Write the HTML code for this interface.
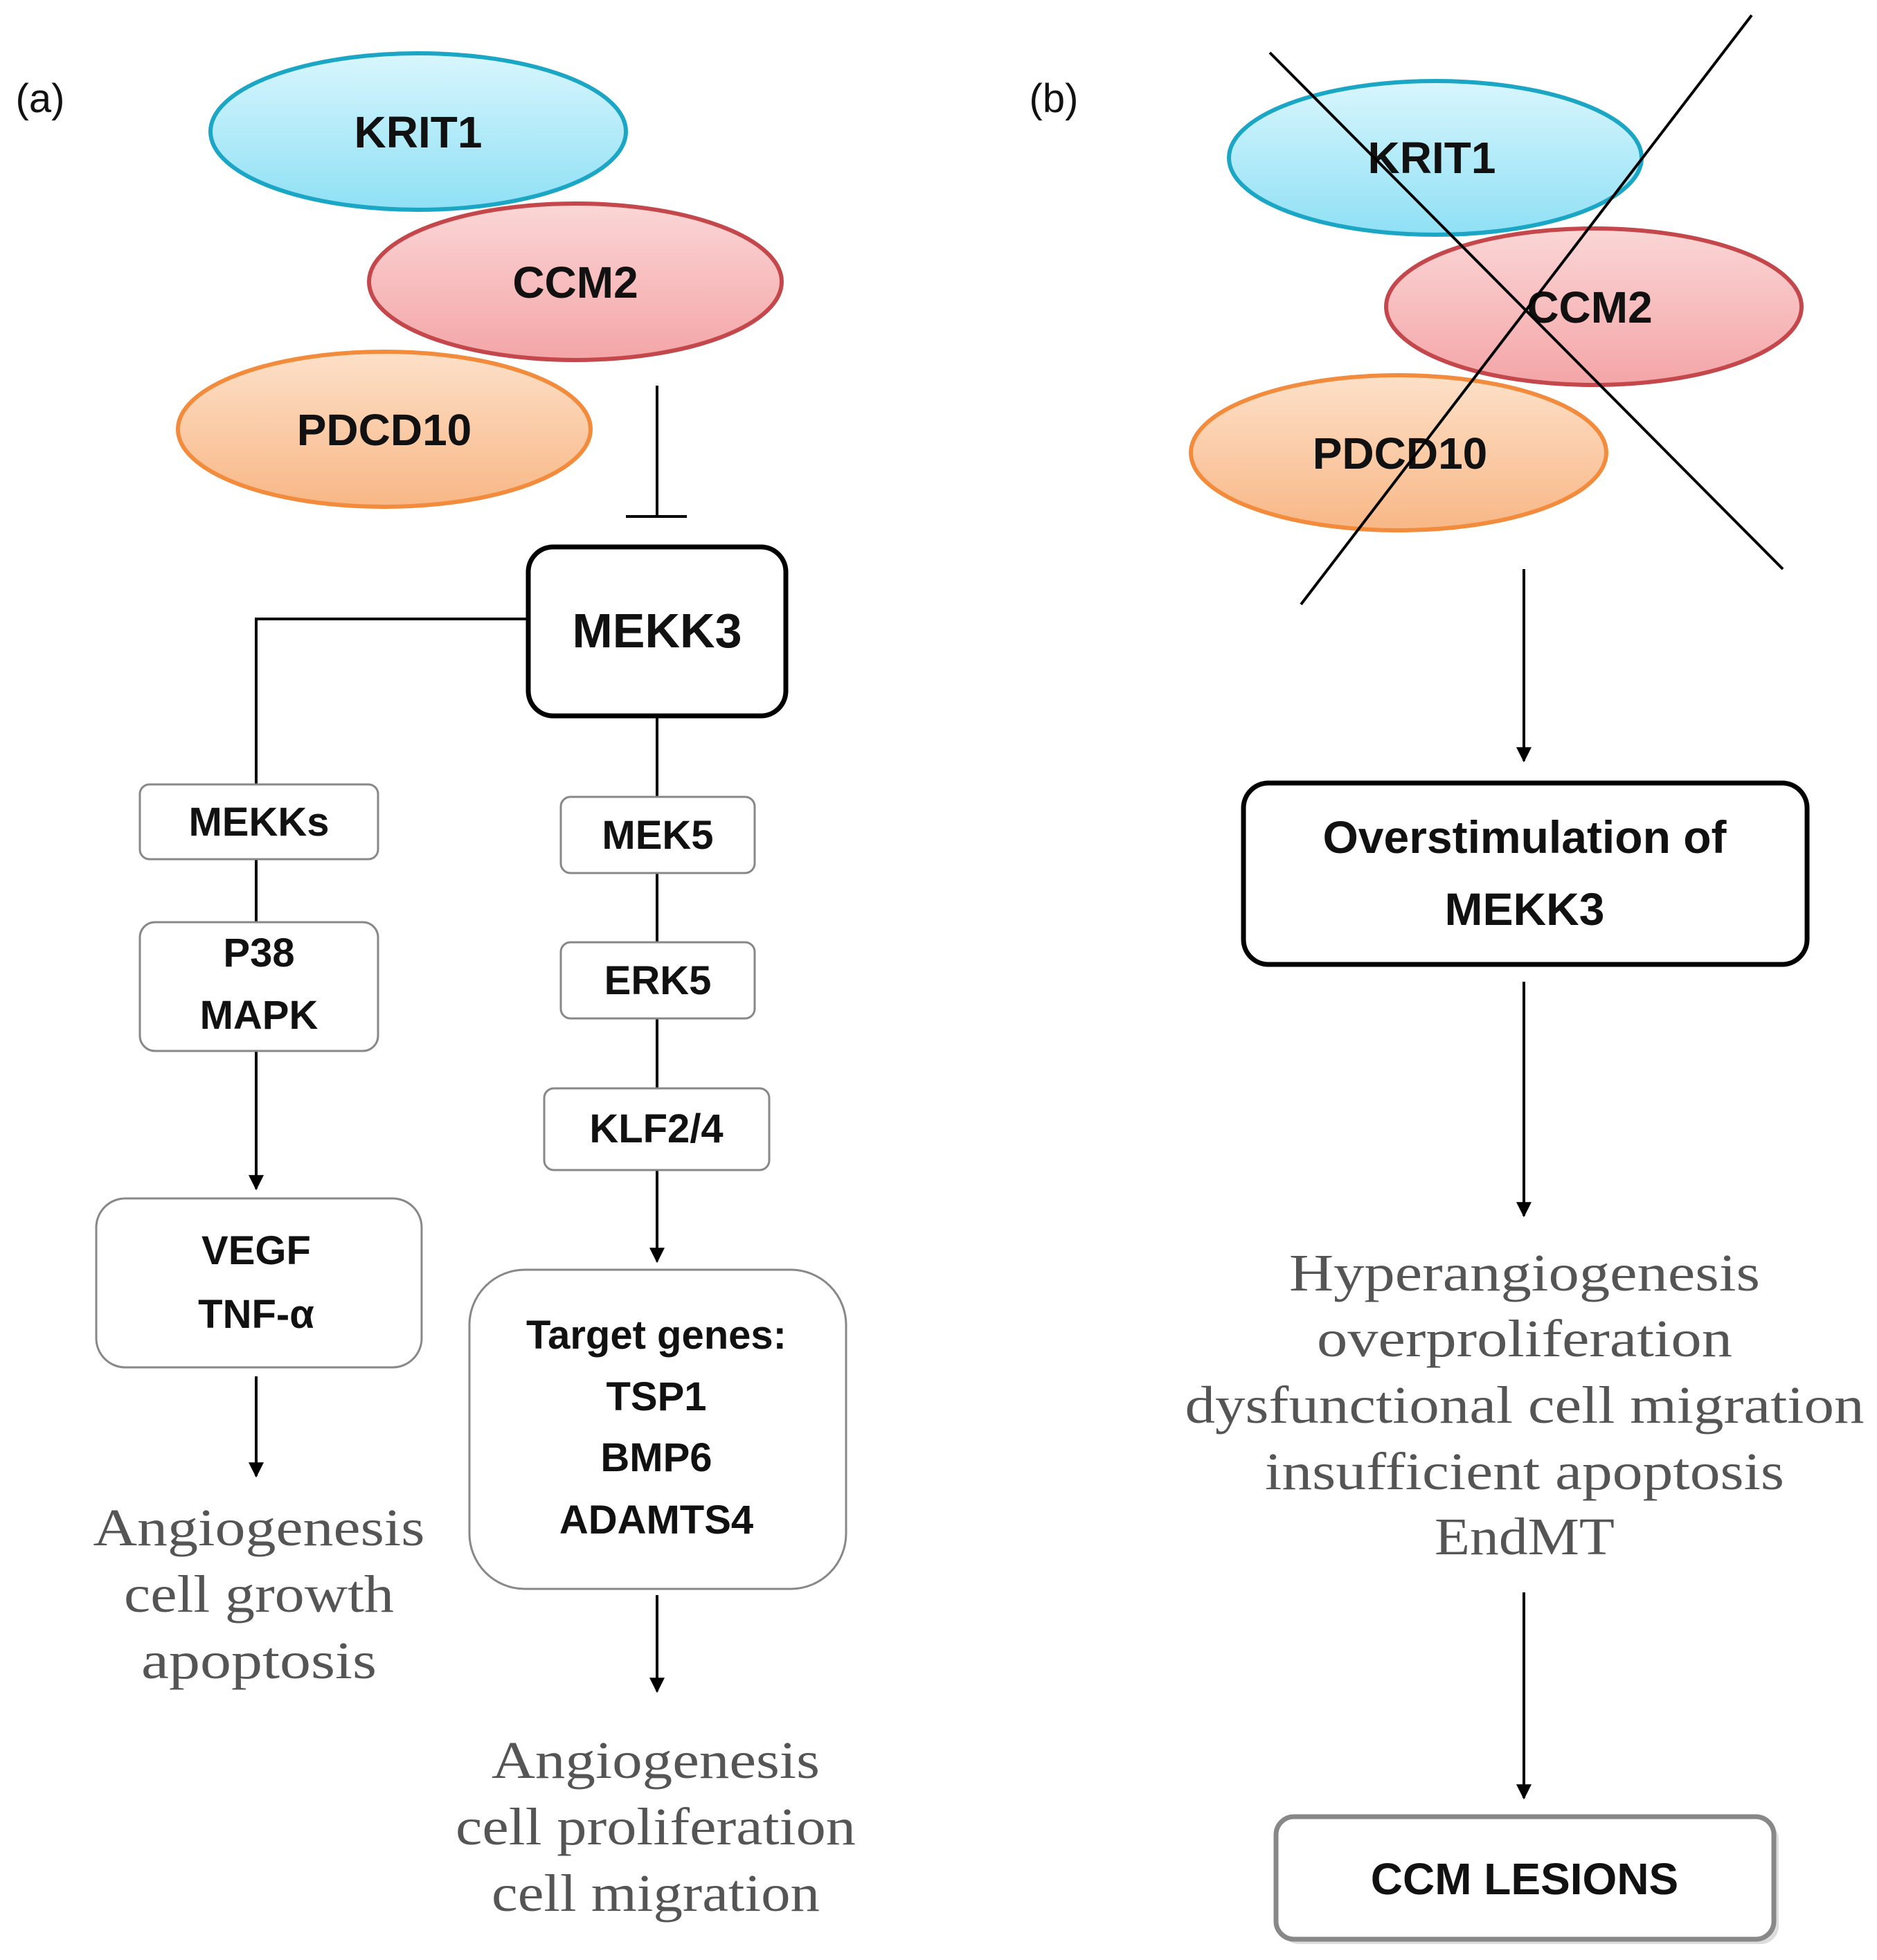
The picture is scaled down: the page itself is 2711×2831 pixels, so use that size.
<!DOCTYPE html>
<html><head><meta charset="utf-8"><style>html,body{margin:0;padding:0;background:#fff}svg{display:block}</style></head><body>
<svg width="2711" height="2831" viewBox="0 0 2711 2831" xmlns="http://www.w3.org/2000/svg">
<defs>
<linearGradient id="gb" x1="0" y1="0" x2="0" y2="1"><stop offset="0" stop-color="#d8f6fd"/><stop offset="1" stop-color="#8fe0f5"/></linearGradient>
<linearGradient id="gr" x1="0" y1="0" x2="0" y2="1"><stop offset="0" stop-color="#fbd6d6"/><stop offset="1" stop-color="#f4a5a7"/></linearGradient>
<linearGradient id="go" x1="0" y1="0" x2="0" y2="1"><stop offset="0" stop-color="#fde0c8"/><stop offset="1" stop-color="#f8b786"/></linearGradient>
<marker id="ar" viewBox="0 0 10 10" refX="9" refY="5" markerWidth="24" markerHeight="22" orient="auto" markerUnits="userSpaceOnUse"><path d="M0,0 L10,5 L0,10 z" fill="#000"/></marker>
</defs>
<g font-family="Liberation Sans, sans-serif" font-weight="bold" fill="#111" text-anchor="middle">
<text x="58" y="162" font-weight="normal" font-size="58">(a)</text>
<ellipse cx="604" cy="190" rx="300" ry="113" fill="url(#gb)" stroke="#1aa6c4" stroke-width="6"/>
<text x="604" y="213" font-size="64">KRIT1</text>
<ellipse cx="831" cy="407" rx="298" ry="113" fill="url(#gr)" stroke="#c4474c" stroke-width="6"/>
<text x="831" y="430" font-size="64">CCM2</text>
<ellipse cx="555" cy="620" rx="298" ry="112" fill="url(#go)" stroke="#f28b3c" stroke-width="6"/>
<text x="555" y="643" font-size="64">PDCD10</text>
<g stroke="#000" stroke-width="4" fill="none">
<line x1="949" y1="557" x2="949" y2="746"/><line x1="904" y1="746" x2="992" y2="746"/>
<polyline points="763,894 370,894 370,1133"/>
<line x1="370" y1="1241" x2="370" y2="1332"/>
<line x1="370" y1="1518" x2="370" y2="1717" marker-end="url(#ar)"/>
<line x1="370" y1="1988" x2="370" y2="2132" marker-end="url(#ar)"/>
<line x1="949" y1="1034" x2="949" y2="1151"/>
<line x1="949" y1="1261" x2="949" y2="1361"/>
<line x1="949" y1="1471" x2="949" y2="1572"/>
<line x1="949" y1="1690" x2="949" y2="1822" marker-end="url(#ar)"/>
<line x1="949" y1="2304" x2="949" y2="2443" marker-end="url(#ar)"/>
</g>
<rect x="763" y="790" width="372" height="244" rx="36" fill="#fff" stroke="#000" stroke-width="7"/>
<text x="949" y="935" font-size="70">MEKK3</text>
<g fill="#fff" stroke="#888" stroke-width="3">
<rect x="202" y="1133" width="344" height="108" rx="14"/>
<rect x="202" y="1332" width="344" height="186" rx="22"/>
<rect x="139" y="1731" width="470" height="244" rx="42"/>
<rect x="810" y="1151" width="280" height="110" rx="14"/>
<rect x="810" y="1361" width="280" height="110" rx="14"/>
<rect x="786" y="1572" width="325" height="118" rx="14"/>
<rect x="678" y="1834" width="544" height="461" rx="80"/>
</g>
<g font-size="58">
<text x="374" y="1207">MEKKs</text>
<text x="374" y="1396">P38</text><text x="374" y="1486">MAPK</text>
<text x="370" y="1826">VEGF</text><text x="370" y="1918">TNF-α</text>
<text x="950" y="1226">MEK5</text>
<text x="950" y="1436">ERK5</text>
<text x="948" y="1650">KLF2/4</text>
<text x="948" y="1948">Target genes:</text>
<text x="948" y="2037">TSP1</text>
<text x="948" y="2125">BMP6</text>
<text x="948" y="2215">ADAMTS4</text>
</g>
<g font-family="Liberation Serif, serif" font-weight="normal" fill="#555" font-size="76">
<text x="374" y="2232" textLength="479" lengthAdjust="spacingAndGlyphs">Angiogenesis</text>
<text x="374" y="2328" textLength="390" lengthAdjust="spacingAndGlyphs">cell growth</text>
<text x="374" y="2424" textLength="340" lengthAdjust="spacingAndGlyphs">apoptosis</text>
<text x="947" y="2568" textLength="474" lengthAdjust="spacingAndGlyphs">Angiogenesis</text>
<text x="947" y="2664" textLength="578" lengthAdjust="spacingAndGlyphs">cell proliferation</text>
<text x="947" y="2760" textLength="474" lengthAdjust="spacingAndGlyphs">cell migration</text>
<text x="2202" y="1864" textLength="680" lengthAdjust="spacingAndGlyphs">Hyperangiogenesis</text>
<text x="2202" y="1959" textLength="600" lengthAdjust="spacingAndGlyphs">overproliferation</text>
<text x="2202" y="2055" textLength="981" lengthAdjust="spacingAndGlyphs">dysfunctional cell migration</text>
<text x="2202" y="2151" textLength="750" lengthAdjust="spacingAndGlyphs">insufficient apoptosis</text>
<text x="2202" y="2245" textLength="260" lengthAdjust="spacingAndGlyphs">EndMT</text>
</g>
<text x="1522" y="162" font-weight="normal" font-size="58">(b)</text>
<ellipse cx="2073" cy="228" rx="298" ry="111" fill="url(#gb)" stroke="#1aa6c4" stroke-width="6"/>
<text x="2068" y="250" font-size="64">KRIT1</text>
<ellipse cx="2302" cy="443" rx="300" ry="113" fill="url(#gr)" stroke="#c4474c" stroke-width="6"/>
<text x="2296" y="466" font-size="64">CCM2</text>
<ellipse cx="2020" cy="654" rx="300" ry="112" fill="url(#go)" stroke="#f28b3c" stroke-width="6"/>
<text x="2022" y="677" font-size="64">PDCD10</text>
<g stroke="#000" stroke-width="4" fill="none">
<line x1="1834" y1="76" x2="2575" y2="822"/>
<line x1="2530" y1="22" x2="1879" y2="873"/>
<line x1="2201" y1="822" x2="2201" y2="1099" marker-end="url(#ar)"/>
<line x1="2201" y1="1418" x2="2201" y2="1756" marker-end="url(#ar)"/>
<line x1="2201" y1="2300" x2="2201" y2="2597" marker-end="url(#ar)"/>
</g>
<rect x="1796" y="1131" width="814" height="262" rx="36" fill="#fff" stroke="#000" stroke-width="7"/>
<text x="2202" y="1232" font-size="66">Overstimulation  of</text>
<text x="2202" y="1336" font-size="66">MEKK3</text>
<rect x="1850" y="2631" width="719" height="177" rx="26" fill="#bbb" opacity="0.5"/>
<rect x="1843" y="2624" width="719" height="177" rx="26" fill="#fff" stroke="#888" stroke-width="7"/>
<text x="2202" y="2736" font-size="64">CCM LESIONS</text>
</g>
</svg>
</body></html>
